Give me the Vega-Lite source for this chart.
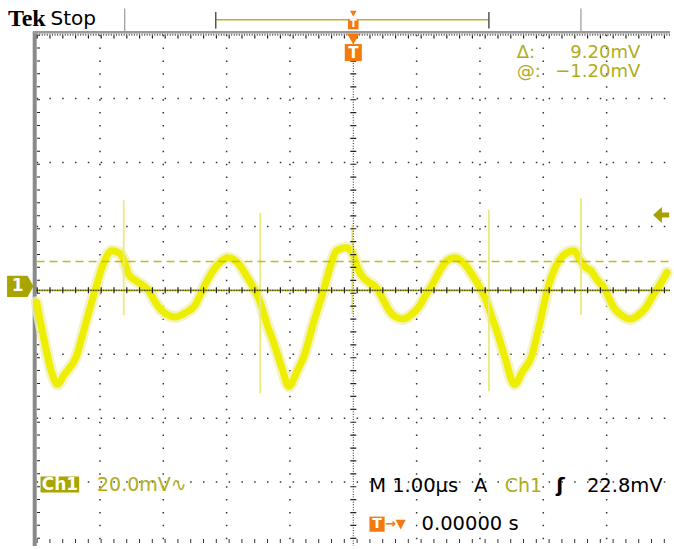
{
"$schema": "https://vega.github.io/schema/vega-lite/v6.json",
"width": 674, "height": 549,
"autosize": {"type": "fit", "contains": "padding"},
"padding": 0,
"background": "white",
"config": {"view": {"stroke": null}},
"datasets": {
"trace": [
{"t":-5.0,"v":-3.72},{"t":-4.875,"v":-16.12},{"t":-4.766,"v":-25.43},{"t":-4.672,"v":-29.46},{"t":-4.563,"v":-26.36},{"t":-4.375,"v":-20.78},{"t":-4.219,"v":-9.92},{"t":-4.063,"v":0.93},{"t":-3.938,"v":8.68},{"t":-3.813,"v":12.4},{"t":-3.703,"v":11.78},{"t":-3.625,"v":9.61},{"t":-3.547,"v":4.96},{"t":-3.438,"v":3.1},{"t":-3.344,"v":1.86},{"t":-3.234,"v":0},{"t":-3.125,"v":-3.72},{"t":-3.031,"v":-6.2},{"t":-2.922,"v":-7.75},{"t":-2.813,"v":-8.37},{"t":-2.656,"v":-7.13},{"t":-2.5,"v":-4.65},{"t":-2.375,"v":0.31},{"t":-2.297,"v":3.41},{"t":-2.141,"v":8.06},{"t":-1.984,"v":10.23},{"t":-1.828,"v":8.68},{"t":-1.672,"v":4.03},{"t":-1.563,"v":0.31},{"t":-1.469,"v":-3.72},{"t":-1.359,"v":-10.85},{"t":-1.25,"v":-16.74},{"t":-1.125,"v":-24.5},{"t":-1.016,"v":-30.08},{"t":-0.891,"v":-25.43},{"t":-0.781,"v":-20.78},{"t":-0.625,"v":-9.92},{"t":-0.469,"v":0},{"t":-0.359,"v":7.75},{"t":-0.266,"v":12.4},{"t":-0.109,"v":13.33},{"t":-0.016,"v":11.78},{"t":0.078,"v":6.51},{"t":0.156,"v":4.03},{"t":0.25,"v":2.48},{"t":0.359,"v":0.93},{"t":0.469,"v":-2.79},{"t":0.563,"v":-6.2},{"t":0.672,"v":-8.37},{"t":0.781,"v":-8.99},{"t":0.906,"v":-7.75},{"t":1.031,"v":-5.27},{"t":1.141,"v":-1.55},{"t":1.25,"v":1.86},{"t":1.375,"v":6.51},{"t":1.484,"v":9.3},{"t":1.609,"v":10.23},{"t":1.734,"v":8.68},{"t":1.875,"v":4.96},{"t":1.969,"v":1.86},{"t":2.078,"v":-2.17},{"t":2.188,"v":-8.37},{"t":2.281,"v":-13.64},{"t":2.391,"v":-20.78},{"t":2.547,"v":-29.46},{"t":2.672,"v":-25.43},{"t":2.813,"v":-20.78},{"t":2.938,"v":-10.85},{"t":3.063,"v":0},{"t":3.188,"v":7.13},{"t":3.328,"v":11.16},{"t":3.484,"v":12.4},{"t":3.578,"v":9.61},{"t":3.672,"v":7.13},{"t":3.75,"v":6.2},{"t":3.844,"v":3.41},{"t":3.953,"v":0.93},{"t":4.031,"v":-2.17},{"t":4.109,"v":-5.27},{"t":4.234,"v":-7.75},{"t":4.375,"v":-8.99},{"t":4.5,"v":-7.75},{"t":4.625,"v":-5.27},{"t":4.734,"v":-1.55},{"t":4.844,"v":1.86},{"t":4.953,"v":5.58}
],
"spikes": [{"t":-3.625,"vmax":28.2,"vmin":-7.75},{"t":-1.469,"vmax":24.2,"vmin":-32.2},{"t":-0.016,"vmax":20.5,"vmin":-7.4},{"t":2.141,"vmax":25.1,"vmin":-31.6},{"t":3.594,"vmax":28.8,"vmin":-7.75}],
"divT": [{"t":-4},{"t":-3},{"t":-2},{"t":-1},{"t":1},{"t":2},{"t":3},{"t":4}],
"divV": [{"v":-60},{"v":-40},{"v":-20},{"v":20},{"v":40},{"v":60}]
},
"layer": [
{"data":{"name":"divT"},"mark":{"type":"rule","color":"#333","strokeWidth":1.5,"strokeDash":[1.5,11.4]},
 "encoding":{"x":{"field":"t","type":"quantitative","scale":{"domain":[-5.578,4.953],"nice":false,"zero":false},"axis":null},
 "y":{"datum":80,"type":"quantitative","scale":{"domain":[-79.38,90.85],"nice":false,"zero":false},"axis":null},"y2":{"datum":-80}}},
{"data":{"name":"divV"},"mark":{"type":"rule","color":"#333","strokeWidth":1.5,"strokeDash":[1.5,11.3]},
 "encoding":{"y":{"field":"v","type":"quantitative","scale":{"domain":[-79.38,90.85],"nice":false,"zero":false},"axis":null},
 "x":{"datum":-5,"type":"quantitative","scale":{"domain":[-5.578,4.953],"nice":false,"zero":false},"axis":null},"x2":{"datum":5}}},
{"data":{"values":[{"v":-78.45}]},"mark":{"type":"rule","color":"#333","strokeWidth":4,"strokeDash":[1,11.8]},
 "encoding":{"y":{"field":"v","type":"quantitative","scale":{"domain":[-79.38,90.85],"nice":false,"zero":false},"axis":null},
 "x":{"datum":-5,"type":"quantitative","scale":{"domain":[-5.578,4.953],"nice":false,"zero":false},"axis":null},"x2":{"datum":5}}},
{"data":{"values":[{"t":-5.03}]},"mark":{"type":"rule","color":"#8a8a8a","strokeWidth":4},
 "encoding":{"x":{"field":"t","type":"quantitative","scale":{"domain":[-5.578,4.953],"nice":false,"zero":false},"axis":null},
 "y":{"datum":80.8,"type":"quantitative","scale":{"domain":[-79.38,90.85],"nice":false,"zero":false},"axis":null},"y2":{"datum":-80}}},
{"data":{"values":[{"t":-4.97}]},"mark":{"type":"rule","color":"#222","strokeWidth":3,"strokeDash":[1,11.9]},
 "encoding":{"x":{"field":"t","type":"quantitative","scale":{"domain":[-5.578,4.953],"nice":false,"zero":false},"axis":null},
 "y":{"datum":80,"type":"quantitative","scale":{"domain":[-79.38,90.85],"nice":false,"zero":false},"axis":null},"y2":{"datum":-80}}},
{"data":{"values":[{"v":80.78}]},"mark":{"type":"rule","color":"#9a9a9a","strokeWidth":2.5},
 "encoding":{"y":{"field":"v","type":"quantitative","scale":{"domain":[-79.38,90.85],"nice":false,"zero":false},"axis":null},
 "x":{"datum":-5.06,"type":"quantitative","scale":{"domain":[-5.578,4.953],"nice":false,"zero":false},"axis":null},"x2":{"datum":5}}},
{"data":{"values":[{"v":80.0}]},"mark":{"type":"rule","color":"#555","strokeWidth":2,"strokeDash":[1,1.56]},
 "encoding":{"y":{"field":"v","type":"quantitative","scale":{"domain":[-79.38,90.85],"nice":false,"zero":false},"axis":null},
 "x":{"datum":-5,"type":"quantitative","scale":{"domain":[-5.578,4.953],"nice":false,"zero":false},"axis":null},"x2":{"datum":5}}},
{"data":{"values":[{"v":79.3}]},"mark":{"type":"rule","color":"#222","strokeWidth":3,"strokeDash":[1.2,11.6]},
 "encoding":{"y":{"field":"v","type":"quantitative","scale":{"domain":[-79.38,90.85],"nice":false,"zero":false},"axis":null},
 "x":{"datum":-5,"type":"quantitative","scale":{"domain":[-5.578,4.953],"nice":false,"zero":false},"axis":null},"x2":{"datum":5}}},
{"data":{"values":[{"t":-3.609},{"t":3.594}]},"mark":{"type":"rule","color":"#999","strokeWidth":1.2},
 "encoding":{"x":{"field":"t","type":"quantitative","scale":{"domain":[-5.578,4.953],"nice":false,"zero":false},"axis":null},
 "y":{"datum":88.2,"type":"quantitative","scale":{"domain":[-79.38,90.85],"nice":false,"zero":false},"axis":null},"y2":{"datum":81.1}}},
{"data":{"values":[{"v":84.65}]},"mark":{"type":"rule","color":"#b8b430","strokeWidth":1.6},
 "encoding":{"y":{"field":"v","type":"quantitative","scale":{"domain":[-79.38,90.85],"nice":false,"zero":false},"axis":null},
 "x":{"datum":-2.172,"type":"quantitative","scale":{"domain":[-5.578,4.953],"nice":false,"zero":false},"axis":null},"x2":{"datum":2.141}}},
{"data":{"values":[{"t":-2.172},{"t":2.141}]},"mark":{"type":"rule","color":"#555","strokeWidth":1.5},
 "encoding":{"x":{"field":"t","type":"quantitative","scale":{"domain":[-5.578,4.953],"nice":false,"zero":false},"axis":null},
 "y":{"datum":87.1,"type":"quantitative","scale":{"domain":[-79.38,90.85],"nice":false,"zero":false},"axis":null},"y2":{"datum":81.9}}},
{"data":{"name":"trace"},"mark":{"type":"line","color":"#f0f0b4","strokeWidth":12,"interpolate":"monotone","strokeCap":"round","strokeJoin":"round","opacity":0.8},
 "encoding":{"x":{"field":"t","type":"quantitative","scale":{"domain":[-5.578,4.953],"nice":false,"zero":false},"axis":null},
 "y":{"field":"v","type":"quantitative","scale":{"domain":[-79.38,90.85],"nice":false,"zero":false},"axis":null}}},
{"data":{"name":"trace"},"mark":{"type":"line","color":"#eeee00","strokeWidth":7,"interpolate":"monotone","strokeCap":"round","strokeJoin":"round"},
 "encoding":{"x":{"field":"t","type":"quantitative","scale":{"domain":[-5.578,4.953],"nice":false,"zero":false},"axis":null},
 "y":{"field":"v","type":"quantitative","scale":{"domain":[-79.38,90.85],"nice":false,"zero":false},"axis":null}}},
{"data":{"name":"spikes"},"mark":{"type":"rule","color":"#eaea80","strokeWidth":1.8},
 "encoding":{"x":{"field":"t","type":"quantitative","scale":{"domain":[-5.578,4.953],"nice":false,"zero":false},"axis":null},
 "y":{"field":"vmax","type":"quantitative","scale":{"domain":[-79.38,90.85],"nice":false,"zero":false},"axis":null},"y2":{"field":"vmin"}}},
{"data":{"values":[{"v":9.0}]},"mark":{"type":"rule","color":"#c4bc10","strokeWidth":1.6,"strokeDash":[8,5]},
 "encoding":{"y":{"field":"v","type":"quantitative","scale":{"domain":[-79.38,90.85],"nice":false,"zero":false},"axis":null},
 "x":{"datum":-5,"type":"quantitative","scale":{"domain":[-5.578,4.953],"nice":false,"zero":false},"axis":null},"x2":{"datum":5}}},
{"data":{"values":[{"v":0}]},"mark":{"type":"rule","color":"#a8a410","strokeWidth":1.8},
 "encoding":{"y":{"field":"v","type":"quantitative","scale":{"domain":[-79.38,90.85],"nice":false,"zero":false},"axis":null},
 "x":{"datum":-5,"type":"quantitative","scale":{"domain":[-5.578,4.953],"nice":false,"zero":false},"axis":null},"x2":{"datum":5}}},
{"data":{"values":[{"v":0}]},"mark":{"type":"rule","color":"#222","strokeWidth":1,"strokeDash":[1,1.56]},
 "encoding":{"y":{"field":"v","type":"quantitative","scale":{"domain":[-79.38,90.85],"nice":false,"zero":false},"axis":null},
 "x":{"datum":-5,"type":"quantitative","scale":{"domain":[-5.578,4.953],"nice":false,"zero":false},"axis":null},"x2":{"datum":5}}},
{"data":{"values":[{"v":0}]},"mark":{"type":"rule","color":"#222","strokeWidth":6,"strokeDash":[1.2,11.6]},
 "encoding":{"y":{"field":"v","type":"quantitative","scale":{"domain":[-79.38,90.85],"nice":false,"zero":false},"axis":null},
 "x":{"datum":-5,"type":"quantitative","scale":{"domain":[-5.578,4.953],"nice":false,"zero":false},"axis":null},"x2":{"datum":5}}},
{"data":{"values":[{"t":0}]},"mark":{"type":"rule","color":"#222","strokeWidth":1,"strokeDash":[1,1.58]},
 "encoding":{"x":{"field":"t","type":"quantitative","scale":{"domain":[-5.578,4.953],"nice":false,"zero":false},"axis":null},
 "y":{"datum":80,"type":"quantitative","scale":{"domain":[-79.38,90.85],"nice":false,"zero":false},"axis":null},"y2":{"datum":-80}}},
{"data":{"values":[{"t":0}]},"mark":{"type":"rule","color":"#222","strokeWidth":6,"strokeDash":[1.2,11.7]},
 "encoding":{"x":{"field":"t","type":"quantitative","scale":{"domain":[-5.578,4.953],"nice":false,"zero":false},"axis":null},
 "y":{"datum":80,"type":"quantitative","scale":{"domain":[-79.38,90.85],"nice":false,"zero":false},"axis":null},"y2":{"datum":-80}}},
{"data":{"values":[{"t":0,"v":78.6}]},"mark":{"type":"point","shape":"triangle-down","filled":true,"color":"#f47a10","size":150,"opacity":1},
 "encoding":{"x":{"field":"t","type":"quantitative","scale":{"domain":[-5.578,4.953],"nice":false,"zero":false},"axis":null},
 "y":{"field":"v","type":"quantitative","scale":{"domain":[-79.38,90.85],"nice":false,"zero":false},"axis":null}}},
{"data":{"values":[{"t":0,"v":74.4}]},"mark":{"type":"point","shape":"square","filled":true,"color":"#f47a10","size":290,"opacity":1},
 "encoding":{"x":{"field":"t","type":"quantitative","scale":{"domain":[-5.578,4.953],"nice":false,"zero":false},"axis":null},
 "y":{"field":"v","type":"quantitative","scale":{"domain":[-79.38,90.85],"nice":false,"zero":false},"axis":null}}},
{"data":{"values":[{"t":0,"v":74.4,"label":"T"}]},"mark":{"type":"text","color":"white","font":"DejaVu Sans","fontSize":15,"fontWeight":"bold","align":"center","baseline":"middle"},
 "encoding":{"x":{"field":"t","type":"quantitative","scale":{"domain":[-5.578,4.953],"nice":false,"zero":false},"axis":null},
 "y":{"field":"v","type":"quantitative","scale":{"domain":[-79.38,90.85],"nice":false,"zero":false},"axis":null},"text":{"field":"label"}}},
{"data":{"values":[{"t":0,"v":86.6}]},"mark":{"type":"point","shape":"triangle-down","filled":true,"color":"#f47a10","size":45,"opacity":1},
 "encoding":{"x":{"field":"t","type":"quantitative","scale":{"domain":[-5.578,4.953],"nice":false,"zero":false},"axis":null},
 "y":{"field":"v","type":"quantitative","scale":{"domain":[-79.38,90.85],"nice":false,"zero":false},"axis":null}}},
{"data":{"values":[{"t":0,"v":83.3}]},"mark":{"type":"point","shape":"square","filled":true,"color":"#f47a10","size":110,"opacity":1},
 "encoding":{"x":{"field":"t","type":"quantitative","scale":{"domain":[-5.578,4.953],"nice":false,"zero":false},"axis":null},
 "y":{"field":"v","type":"quantitative","scale":{"domain":[-79.38,90.85],"nice":false,"zero":false},"axis":null}}},
{"data":{"values":[{"t":0,"v":83.3,"label":"T"}]},"mark":{"type":"text","color":"white","font":"DejaVu Sans","fontSize":10,"fontWeight":"bold","align":"center","baseline":"middle"},
 "encoding":{"x":{"field":"t","type":"quantitative","scale":{"domain":[-5.578,4.953],"nice":false,"zero":false},"axis":null},
 "y":{"field":"v","type":"quantitative","scale":{"domain":[-79.38,90.85],"nice":false,"zero":false},"axis":null},"text":{"field":"label"}}},
{"data":{"values":[{"t":-5.258,"v":1.24}]},"mark":{"type":"point","shape":"M-1,-0.8L0.55,-0.8L1,0L0.55,0.8L-1,0.8Z","filled":true,"color":"#aaa400","size":700,"opacity":1},
 "encoding":{"x":{"field":"t","type":"quantitative","scale":{"domain":[-5.578,4.953],"nice":false,"zero":false},"axis":null},
 "y":{"field":"v","type":"quantitative","scale":{"domain":[-79.38,90.85],"nice":false,"zero":false},"axis":null}}},
{"data":{"values":[{"t":-5.3,"v":1.24,"label":"1"}]},"mark":{"type":"text","color":"white","font":"DejaVu Sans","fontSize":17,"fontWeight":"bold","align":"center","baseline":"middle"},
 "encoding":{"x":{"field":"t","type":"quantitative","scale":{"domain":[-5.578,4.953],"nice":false,"zero":false},"axis":null},
 "y":{"field":"v","type":"quantitative","scale":{"domain":[-79.38,90.85],"nice":false,"zero":false},"axis":null},"text":{"field":"label"}}},
{"data":{"values":[{"t":4.86,"v":23.57}]},"mark":{"type":"point","shape":"M-1,0L0.1,-1L0.1,-0.3L1,-0.3L1,0.3L0.1,0.3L0.1,1Z","filled":true,"color":"#a8a000","size":260,"opacity":1},
 "encoding":{"x":{"field":"t","type":"quantitative","scale":{"domain":[-5.578,4.953],"nice":false,"zero":false},"axis":null},
 "y":{"field":"v","type":"quantitative","scale":{"domain":[-79.38,90.85],"nice":false,"zero":false},"axis":null}}},
{"data":{"values":[{"t":-5.453,"v":84.96,"label":"Tek"}]},"mark":{"type":"text","color":"black","font":"Liberation Serif","fontSize":24,"fontWeight":"bold","align":"left","baseline":"middle"},
 "encoding":{"x":{"field":"t","type":"quantitative","scale":{"domain":[-5.578,4.953],"nice":false,"zero":false},"axis":null},
 "y":{"field":"v","type":"quantitative","scale":{"domain":[-79.38,90.85],"nice":false,"zero":false},"axis":null},"text":{"field":"label"}}},
{"data":{"values":[{"t":-4.781,"v":84.96,"label":"Stop"}]},"mark":{"type":"text","color":"black","font":"DejaVu Sans","fontSize":20,"align":"left","baseline":"middle"},
 "encoding":{"x":{"field":"t","type":"quantitative","scale":{"domain":[-5.578,4.953],"nice":false,"zero":false},"axis":null},
 "y":{"field":"v","type":"quantitative","scale":{"domain":[-79.38,90.85],"nice":false,"zero":false},"axis":null},"text":{"field":"label"}}},
{"data":{"values":[{"t":2.58,"v":74.42,"label":"Δ:"},{"t":2.58,"v":68.22,"label":"@:"}]},"mark":{"type":"text","color":"#b0ac20","font":"DejaVu Sans","fontSize":18,"align":"left","baseline":"middle"},
 "encoding":{"x":{"field":"t","type":"quantitative","scale":{"domain":[-5.578,4.953],"nice":false,"zero":false},"axis":null},
 "y":{"field":"v","type":"quantitative","scale":{"domain":[-79.38,90.85],"nice":false,"zero":false},"axis":null},"text":{"field":"label"}}},
{"data":{"values":[{"t":4.531,"v":74.42,"label":"9.20mV"},{"t":4.531,"v":68.22,"label":"−1.20mV"}]},"mark":{"type":"text","color":"#b0ac20","font":"DejaVu Sans","fontSize":18,"align":"right","baseline":"middle"},
 "encoding":{"x":{"field":"t","type":"quantitative","scale":{"domain":[-5.578,4.953],"nice":false,"zero":false},"axis":null},
 "y":{"field":"v","type":"quantitative","scale":{"domain":[-79.38,90.85],"nice":false,"zero":false},"axis":null},"text":{"field":"label"}}},
{"data":{"values":[{"t1":-4.938,"t2":-4.328,"v1":-58.29,"v2":-63.26}]},"mark":{"type":"rect","color":"#aaa400"},
 "encoding":{"x":{"field":"t1","type":"quantitative","scale":{"domain":[-5.578,4.953],"nice":false,"zero":false},"axis":null},"x2":{"field":"t2"},
 "y":{"field":"v1","type":"quantitative","scale":{"domain":[-79.38,90.85],"nice":false,"zero":false},"axis":null},"y2":{"field":"v2"}}},
{"data":{"values":[{"t":-4.633,"v":-60.78,"label":"Ch1"}]},"mark":{"type":"text","color":"white","font":"DejaVu Sans","fontSize":17,"fontWeight":"bold","align":"center","baseline":"middle"},
 "encoding":{"x":{"field":"t","type":"quantitative","scale":{"domain":[-5.578,4.953],"nice":false,"zero":false},"axis":null},
 "y":{"field":"v","type":"quantitative","scale":{"domain":[-79.38,90.85],"nice":false,"zero":false},"axis":null},"text":{"field":"label"}}},
{"data":{"values":[{"t":-4.047,"v":-60.78,"label":"20.0mV∿"},{"t":2.391,"v":-61.09,"label":"Ch1"}]},"mark":{"type":"text","color":"#b0ac20","font":"DejaVu Sans","fontSize":19,"align":"left","baseline":"middle"},
 "encoding":{"x":{"field":"t","type":"quantitative","scale":{"domain":[-5.578,4.953],"nice":false,"zero":false},"axis":null},
 "y":{"field":"v","type":"quantitative","scale":{"domain":[-79.38,90.85],"nice":false,"zero":false},"axis":null},"text":{"field":"label"}}},
{"data":{"values":[{"t":0.25,"v":-61.09,"label":"M 1.00µs"},{"t":1.906,"v":-61.09,"label":"A"},{"t":3.688,"v":-61.09,"label":"22.8mV"},{"t":1.078,"v":-73.18,"label":"0.00000 s"}]},"mark":{"type":"text","color":"black","font":"DejaVu Sans","fontSize":19.5,"align":"left","baseline":"middle"},
 "encoding":{"x":{"field":"t","type":"quantitative","scale":{"domain":[-5.578,4.953],"nice":false,"zero":false},"axis":null},
 "y":{"field":"v","type":"quantitative","scale":{"domain":[-79.38,90.85],"nice":false,"zero":false},"axis":null},"text":{"field":"label"}}},
{"data":{"values":[{"t":3.203,"v":-61.09,"label":"ʃ"}]},"mark":{"type":"text","color":"black","font":"DejaVu Sans","fontSize":20,"fontWeight":"bold","align":"left","baseline":"middle"},
 "encoding":{"x":{"field":"t","type":"quantitative","scale":{"domain":[-5.578,4.953],"nice":false,"zero":false},"axis":null},
 "y":{"field":"v","type":"quantitative","scale":{"domain":[-79.38,90.85],"nice":false,"zero":false},"axis":null},"text":{"field":"label"}}},
{"data":{"values":[{"t":0.375,"v":-73.18}]},"mark":{"type":"point","shape":"square","filled":true,"color":"#f47a10","size":230,"opacity":1},
 "encoding":{"x":{"field":"t","type":"quantitative","scale":{"domain":[-5.578,4.953],"nice":false,"zero":false},"axis":null},
 "y":{"field":"v","type":"quantitative","scale":{"domain":[-79.38,90.85],"nice":false,"zero":false},"axis":null}}},
{"data":{"values":[{"t":0.375,"v":-73.18,"label":"T"}]},"mark":{"type":"text","color":"white","font":"DejaVu Sans","fontSize":14,"fontWeight":"bold","align":"center","baseline":"middle"},
 "encoding":{"x":{"field":"t","type":"quantitative","scale":{"domain":[-5.578,4.953],"nice":false,"zero":false},"axis":null},
 "y":{"field":"v","type":"quantitative","scale":{"domain":[-79.38,90.85],"nice":false,"zero":false},"axis":null},"text":{"field":"label"}}},
{"data":{"values":[{"t":0.5,"v":-73.18,"label":"→▼"}]},"mark":{"type":"text","color":"#f47a10","font":"DejaVu Sans","fontSize":13,"fontWeight":"bold","align":"left","baseline":"middle"},
 "encoding":{"x":{"field":"t","type":"quantitative","scale":{"domain":[-5.578,4.953],"nice":false,"zero":false},"axis":null},
 "y":{"field":"v","type":"quantitative","scale":{"domain":[-79.38,90.85],"nice":false,"zero":false},"axis":null},"text":{"field":"label"}}}
]
}
